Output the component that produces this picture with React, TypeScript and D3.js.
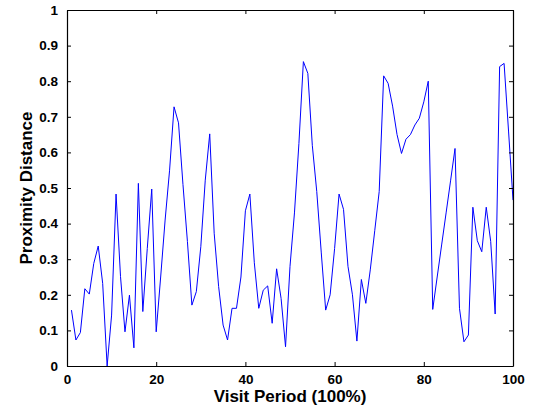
import React, { useEffect, useRef } from "react";
import * as d3 from "d3";

const width = 538;
const height = 409;
const margin = { top: 10, right: 25, bottom: 43, left: 67 };

// visit period 1..100
const periods: number[] = Array.from({ length: 100 }, (_, i) => i + 1);
const distances: number[] = [
  0.157, 0.073, 0.094, 0.217, 0.202, 0.288, 0.337, 0.232, 0.0, 0.143,
  0.483, 0.251, 0.096, 0.199, 0.051, 0.513, 0.153, 0.33, 0.497, 0.096,
  0.25, 0.41, 0.55, 0.728, 0.683, 0.51, 0.35, 0.171, 0.209, 0.335,
  0.522, 0.652, 0.373, 0.223, 0.115, 0.073, 0.162, 0.162, 0.25, 0.436,
  0.483, 0.29, 0.162, 0.213, 0.225, 0.12, 0.273, 0.19, 0.054, 0.28,
  0.43, 0.625, 0.855, 0.822, 0.62, 0.49, 0.32, 0.157, 0.2, 0.33,
  0.483, 0.44, 0.28, 0.2, 0.07, 0.243, 0.176, 0.27, 0.38, 0.49,
  0.815, 0.794, 0.73, 0.65, 0.597, 0.637, 0.65, 0.677, 0.696, 0.742,
  0.8, 0.159, 0.25, 0.34, 0.43, 0.52, 0.611, 0.162, 0.068, 0.087,
  0.446, 0.352, 0.321, 0.446, 0.35, 0.146, 0.841, 0.85, 0.66, 0.466,
];
const xTicks: number[] = [0, 20, 40, 60, 80, 100];
const yTicks: number[] = [0, 0.1, 0.2, 0.3, 0.4, 0.5, 0.6, 0.7, 0.8, 0.9, 1];

const font = "'Liberation Sans', Arial, sans-serif";

const App = () => {
  const ref = useRef<SVGSVGElement | null>(null);

  useEffect(() => {
    const svg = d3.select(ref.current);
    svg.selectAll("*").remove();

    const x = d3
      .scaleLinear()
      .domain([0, 100])
      .range([margin.left, width - margin.right]);
    const y = d3
      .scaleLinear()
      .domain([0, 1])
      .range([height - margin.bottom, margin.top]);

    const line = d3
      .line<number>()
      .x((_, i) => x(periods[i]))
      .y((d) => y(d));

    svg
      .append("path")
      .datum(distances)
      .attr("fill", "none")
      .attr("stroke", "#0000ff")
      .attr("stroke-width", 1)
      .attr("stroke-linejoin", "round")
      .attr("d", line);

    const styleAxis = (g: d3.Selection<SVGGElement, unknown, null, undefined>) => {
      g.select(".domain").attr("stroke", "#000").attr("stroke-width", 1.2);
      g.selectAll(".tick line").attr("stroke", "#000").attr("stroke-width", 1);
      g.selectAll(".tick text")
        .attr("fill", "#000")
        .style("font-family", font)
        .style("font-weight", "bold")
        .style("font-size", "13.5px");
    };

    const bottom = svg
      .append("g")
      .attr("transform", `translate(0,${height - margin.bottom})`)
      .call(
        d3.axisBottom(x).tickValues(xTicks).tickSizeInner(-4).tickSizeOuter(0).tickPadding(8)
      );
    styleAxis(bottom);

    const top = svg
      .append("g")
      .attr("transform", `translate(0,${margin.top})`)
      .call(d3.axisTop(x).tickValues(xTicks).tickSizeInner(-4).tickSizeOuter(0).tickFormat(() => ""));
    styleAxis(top);

    const left = svg
      .append("g")
      .attr("transform", `translate(${margin.left},0)`)
      .call(
        d3
          .axisLeft(y)
          .tickValues(yTicks)
          .tickSizeInner(-4)
          .tickSizeOuter(0)
          .tickPadding(9)
          .tickFormat((d) => d3.format("~g")(d as number))
      );
    styleAxis(left);

    const right = svg
      .append("g")
      .attr("transform", `translate(${width - margin.right},0)`)
      .call(d3.axisRight(y).tickValues(yTicks).tickSizeInner(-4).tickSizeOuter(0).tickFormat(() => ""));
    styleAxis(right);

    svg
      .append("text")
      .attr("x", (margin.left + width - margin.right) / 2)
      .attr("y", 402)
      .attr("text-anchor", "middle")
      .style("font-family", font)
      .style("font-weight", "bold")
      .style("font-size", "17px")
      .text("Visit Period (100%)");

    svg
      .append("text")
      .attr("transform", `translate(32,${(margin.top + height - margin.bottom) / 2}) rotate(-90)`)
      .attr("text-anchor", "middle")
      .style("font-family", font)
      .style("font-weight", "bold")
      .style("font-size", "17px")
      .text("Proximity Distance");
  }, []);

  return (
    <svg
      ref={ref}
      width={width}
      height={height}
      style={{ position: "absolute", left: 0, top: 0, background: "#fff" }}
    />
  );
};

export default App;
